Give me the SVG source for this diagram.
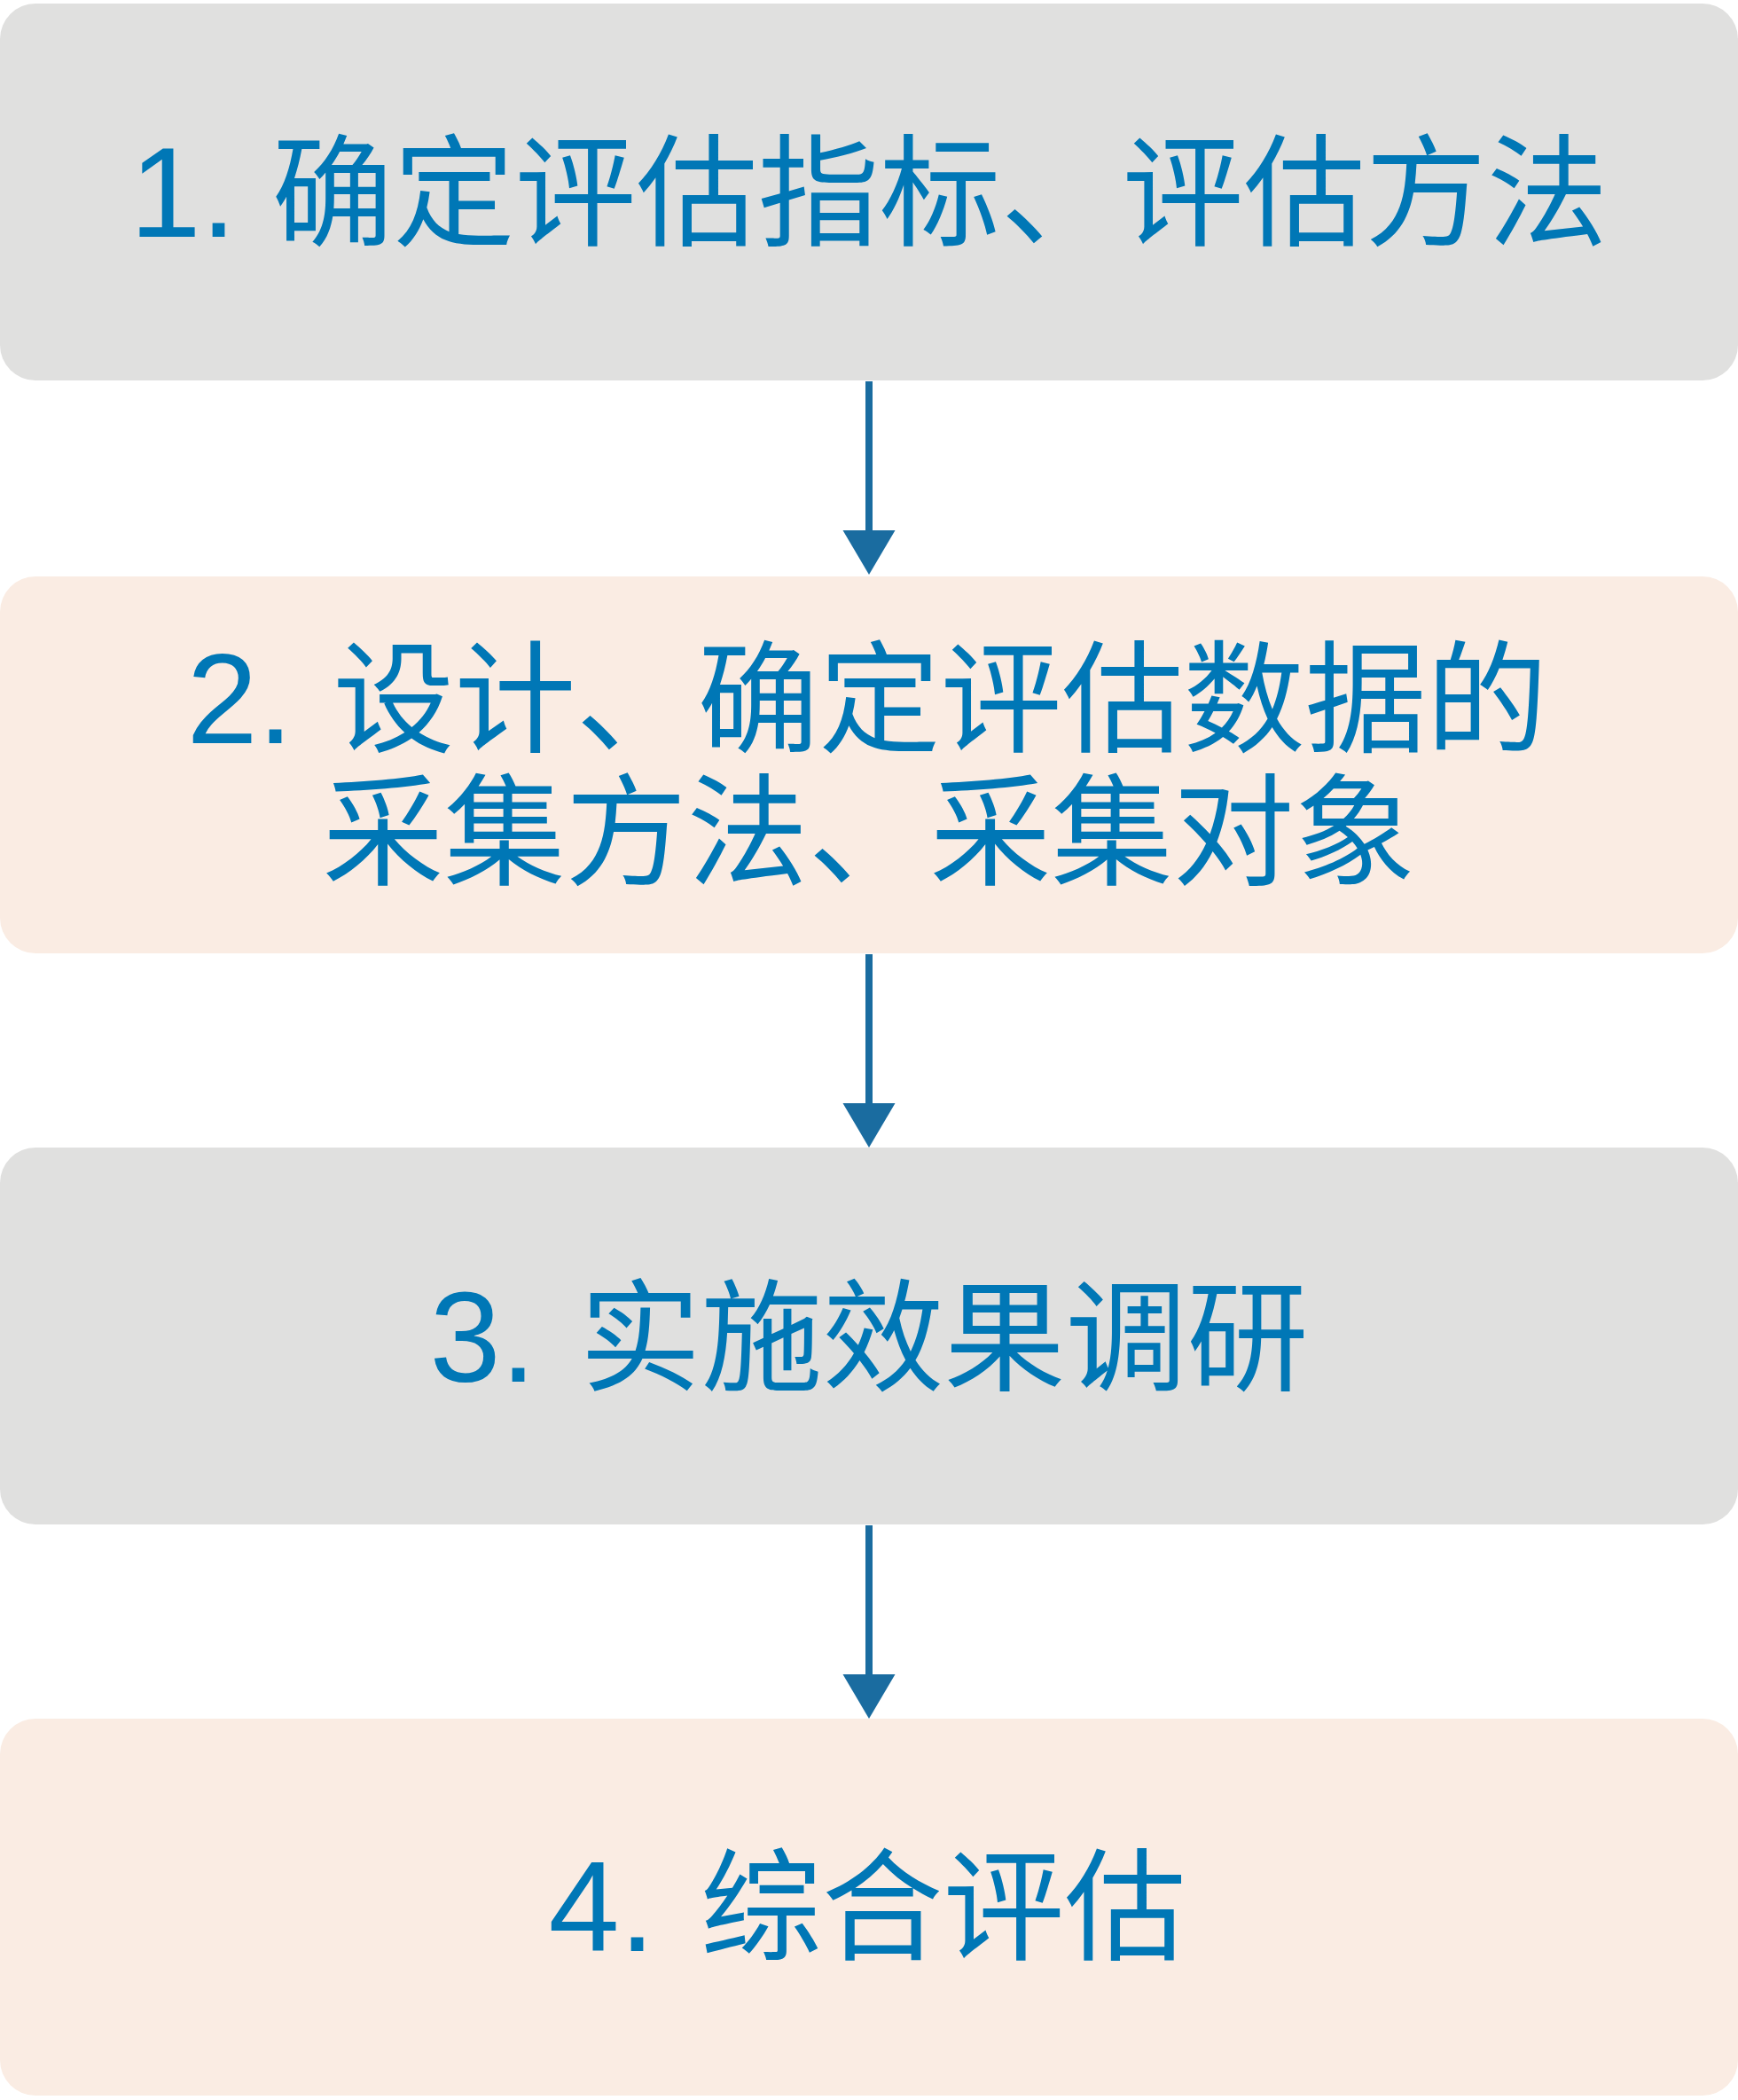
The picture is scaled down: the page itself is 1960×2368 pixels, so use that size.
<svg xmlns="http://www.w3.org/2000/svg" width="1960" height="2368" viewBox="0 0 1960 2368">
<style>
.grey{fill:#e0e0df;}
.peach{fill:#faece3;}
.lbl{font-family:'Liberation Sans','Noto Sans CJK SC',sans-serif;font-size:137px;fill:#0077b6;text-anchor:middle;}
.num{font-size:144px;}
.conn{stroke:#1a6ca0;stroke-width:8;fill:none;}
</style>
<defs>
<marker id="ah" markerUnits="userSpaceOnUse" markerWidth="52" markerHeight="60" refX="0" refY="29.5" orient="auto" viewBox="0 0 52 60">
<path d="M0,0 L50,29.5 L0,59 Z" fill="#1a6ca0"/>
</marker>
</defs>
<rect width="1960" height="2368" fill="#ffffff"/>
<g id="node1">
<rect class="grey" x="0" y="4" width="1960" height="425" rx="40" ry="40"/>
<text class="lbl" x="980" y="267"><tspan class="num">1. </tspan><tspan>确定评估指标、评估方法</tspan></text>
</g>
<g id="node2">
<rect class="peach" x="0" y="650" width="1960" height="425" rx="40" ry="40"/>
<text class="lbl" x="978" y="838"><tspan class="num">2. </tspan><tspan dx="5">设计、确定评估数据的</tspan></text>
<text class="lbl" x="980" y="988">采集方法、采集对象</text>
</g>
<g id="node3">
<rect class="grey" x="0" y="1294" width="1960" height="425" rx="40" ry="40"/>
<text class="lbl" x="980" y="1558"><tspan class="num">3. </tspan><tspan dx="9">实施效果调研</tspan></text>
</g>
<g id="node4">
<rect class="peach" x="0" y="1938" width="1960" height="425" rx="40" ry="40"/>
<text class="lbl" x="978" y="2200"><tspan class="num">4. </tspan><tspan dx="11">综合评估</tspan></text>
</g>
<g id="connectors">
<line class="conn" x1="980" y1="430" x2="980" y2="598" marker-end="url(#ah)"/>
<line class="conn" x1="980" y1="1076" x2="980" y2="1244" marker-end="url(#ah)"/>
<line class="conn" x1="980" y1="1720" x2="980" y2="1888" marker-end="url(#ah)"/>
</g>
</svg>
